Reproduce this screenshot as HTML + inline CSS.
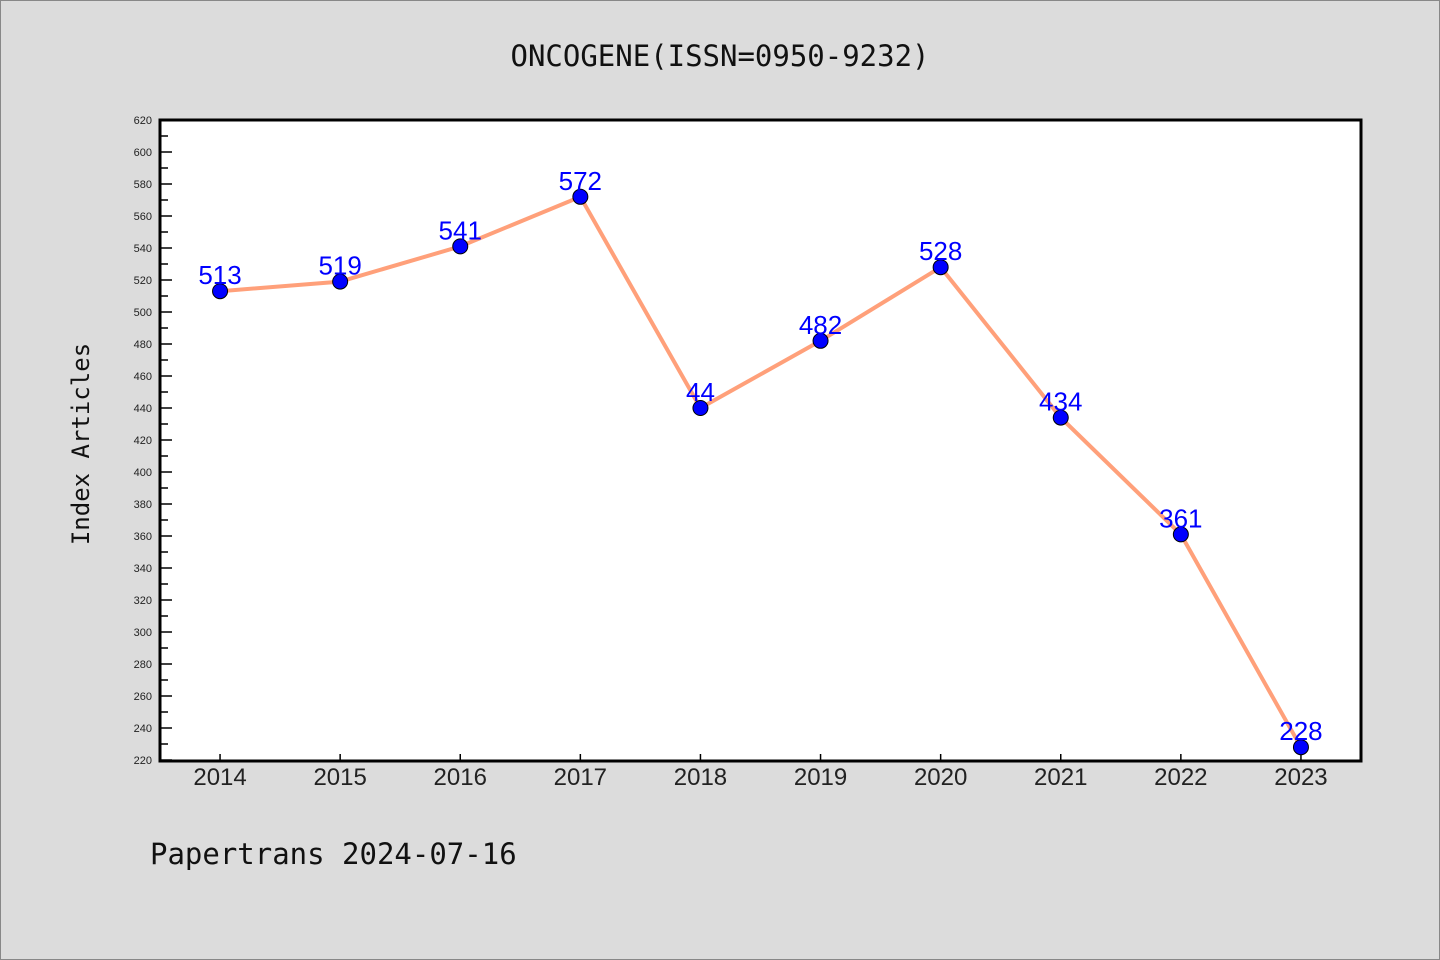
<!DOCTYPE html>
<html><head><meta charset="utf-8"><style>
body{margin:0;background:#dcdcdc;}
svg{display:block;font-family:"Liberation Sans","DejaVu Sans",sans-serif;}
</style></head><body>
<svg id="chart" width="1440" height="960">
<rect x="0.5" y="0.5" width="1439" height="959" fill="#dcdcdc" stroke="#888"/>
<text x="720" y="66" text-anchor="middle" font-family="DejaVu Sans Mono, monospace" font-size="29" fill="#111">ONCOGENE(ISSN=0950-9232)</text>
<rect x="160" y="120" width="1201" height="641" fill="#fff"/>
<g id="axes"></g>
<g id="series"></g>
<rect x="160" y="120" width="1201" height="641" fill="none" stroke="#000" stroke-width="3"/>
<text transform="translate(89,444) rotate(-90)" text-anchor="middle" font-family="DejaVu Sans Mono, monospace" font-size="24" fill="#111">Index Articles</text>
<text x="150" y="864" font-family="DejaVu Sans Mono, monospace" font-size="29" fill="#111">Papertrans 2024-07-16</text>
</svg>
<script>
const years=["2014","2015","2016","2017","2018","2019","2020","2021","2022","2023"];
const values=[513,519,541,572,440,482,528,434,361,228];
const pointLabels=["513","519","541","572","44","482","528","434","361","228"];
const yTicks=[220,240,260,280,300,320,340,360,380,400,420,440,460,480,500,520,540,560,580,600,620];
const NS="http://www.w3.org/2000/svg";
const X0=160,W=1201,Y0=760,Y1=120,YMIN=220,YMAX=620;
const xs=i=>X0+W/years.length*(i+0.5);
const ys=v=>Y0-(v-YMIN)/(YMAX-YMIN)*(Y0-Y1);
function mk(t,a,p){const e=document.createElementNS(NS,t);for(const k in a)e.setAttribute(k,a[k]);p.appendChild(e);return e;}
const ax=document.getElementById('axes'),se=document.getElementById('series');
yTicks.forEach((v,i)=>{
 const y=ys(v);
 const t=mk('line',{x1:160,x2:172,y1:y,y2:y,stroke:'#000','stroke-width':1.5},ax);
 
 
 if(i<yTicks.length-1){const m=mk('line',{x1:160,x2:168,y1:ys(v+10),y2:ys(v+10),stroke:'#000','stroke-width':1.5},ax);
 
 }
 const l=mk('text',{x:152,y:y+4,'text-anchor':'end','font-size':11,fill:'#222'},ax);l.textContent=v;
 
 
});
years.forEach((yr,i)=>{
 const x=xs(i);
 const t=mk('line',{x1:x,x2:x,y1:760,y2:754,stroke:'#000','stroke-width':1.5},ax);
 
 
 const l=mk('text',{x:x,y:785,'text-anchor':'middle','font-size':24,fill:'#222'},ax);l.textContent=yr;
 
 
});
const pl=mk('polyline',{points:values.map((v,i)=>xs(i)+','+ys(v)).join(' '),fill:'none',stroke:'#ffa07a','stroke-width':4},se);


values.forEach((v,i)=>{
 const c=mk('circle',{cx:xs(i),cy:ys(v),r:7.5,fill:'#0000ff',stroke:'#000','stroke-width':1},se);
 
 
 const l=mk('text',{x:xs(i),y:ys(v)-7,'text-anchor':'middle','font-size':26,fill:'#0000ff'},se);l.textContent=pointLabels[i];
 
 
});
</script>
</body></html>
